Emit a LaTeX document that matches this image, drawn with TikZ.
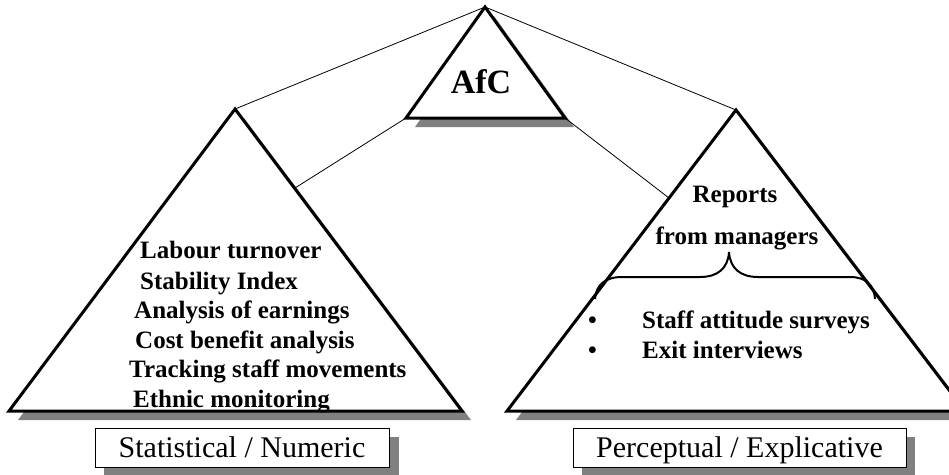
\documentclass[tikz,border=0pt]{standalone}
\usepackage{fontspec}
\setmainfont{Liberation Serif}
\begin{document}
\begin{tikzpicture}[x=1pt,y=-1pt,
  tri/.style={draw=black,line width=3pt,line join=miter,fill=white},
  shadowfill/.style={fill=black!50,draw=none},
  link/.style={draw=black,line width=0.8pt},
  boldtxt/.style={inner sep=0pt,anchor=base west,font=\fontsize{25}{30}\selectfont\bfseries},
  labelbox/.style={draw=black,line width=0.8pt,fill=white},
  sh/.style={xshift=9pt,yshift=-9pt},
]
\useasboundingbox (0,0) rectangle (949,474);
\begin{scope}
\clip (0,0) rectangle (949,474);
% key points
\coordinate (topA) at (485,7);
\coordinate (topL) at (406,118);
\coordinate (topR) at (565,118);
\coordinate (leftA) at (235,109);
\coordinate (leftL) at (9,411);
\coordinate (leftR) at (462,411);
\coordinate (rightA) at (736,110);
\coordinate (rightL) at (507,411);
\coordinate (rightR) at (965,411);
\coordinate (leftEdge) at (295,188);
\coordinate (rightEdge) at (669,198);
% shadows
\fill[shadowfill] ([sh]topA) -- ([sh]topR) -- ([sh]topL) -- cycle;
\fill[shadowfill] ([sh]leftA) -- ([sh]leftR) -- ([sh]leftL) -- cycle;
\fill[shadowfill] ([sh]rightA) -- ([sh]rightR) -- ([sh]rightL) -- cycle;
% triangles
\draw[tri] (leftA) -- (leftR) -- (leftL) -- cycle;
\draw[tri] (rightA) -- (rightR) -- (rightL) -- cycle;
\draw[tri] (topA) -- (topR) -- (topL) -- cycle;
% connectors
\draw[link] (topA) -- (leftA);
\draw[link] (topA) -- (rightA);
\draw[link] (topL) -- (leftEdge);
\draw[link] (topR) -- (rightEdge);
% AfC
\node[inner sep=0pt,anchor=base,font=\fontsize{34}{40}\selectfont\bfseries] (afc) at (481,93) {AfC};
% left texts
\node[boldtxt] (t1) at (140,258) {Labour turnover};
\node[boldtxt] (t2) at (140,289) {Stability Index};
\node[boldtxt] (t3) at (134,318) {Analysis of earnings};
\node[boldtxt] (t4) at (135,348) {Cost benefit analysis};
\node[boldtxt] (t5) at (129,377) {Tracking staff movements};
\node[boldtxt] (t6) at (133,407) {Ethnic monitoring};
% right texts
\node[boldtxt,anchor=base] (r1) at (735,202) {Reports};
\node[boldtxt,anchor=base] (r2) at (737,244) {from managers};
\draw[line width=2pt] (595,299) .. controls (596,285) and (605,277) .. (622,277)
  -- (700,277) .. controls (718,277) and (728,268) .. (729,252)
  .. controls (730,268) and (740,277) .. (758,277)
  -- (850,277) .. controls (866,277) and (874,285) .. (875,299);
\node[boldtxt] (b1) at (588,328) {•};
\node[boldtxt] (b2) at (588,358) {•};
\node[boldtxt] (r3) at (642,328) {Staff attitude surveys};
\node[boldtxt] (r4) at (642,358) {Exit interviews};
% bottom labels
\fill[shadowfill] (104,437) rectangle (399,476);
\fill[shadowfill] (582,437) rectangle (915,476);
\draw[labelbox] (95,428) rectangle (389,467);
\draw[labelbox] (573,428) rectangle (906,467);
\node[inner sep=0pt,anchor=base,font=\fontsize{30}{36}\selectfont] (stat) at (242,457) {Statistical / Numeric};
\node[inner sep=0pt,anchor=base,font=\fontsize{30}{36}\selectfont] (perc) at (739.5,457) {Perceptual / Explicative};
\end{scope}
\end{tikzpicture}
\end{document}
